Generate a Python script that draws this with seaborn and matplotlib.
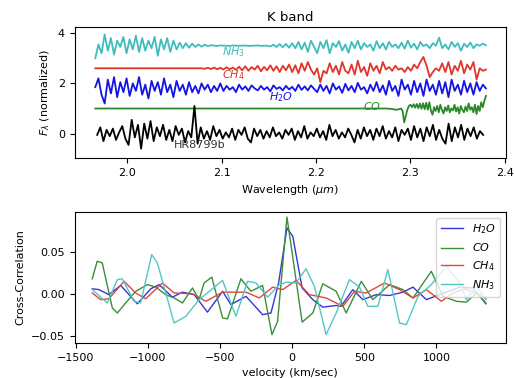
import numpy as np
import pandas as pd
import matplotlib
matplotlib.use("Agg")
import matplotlib.pyplot as plt
import seaborn as sns

# ---------------- top panel data (K band spectra) ----------------
grid_start, grid_stop, grid_n = 1.966, 2.38, 126
obj_start, obj_stop, obj_n = 1.968, 2.377, 124
co_start, co_stop, co_n = 2.27, 2.38, 67
co_flat_wave = 1.966
co_flat_flux = 1.00

hr8799b_flux = [
    -0.05, 0.25, -0.30, 0.15, -0.10, 0.20, -0.25, 0.05, 0.30, -0.20,
    -0.45, 0.55, -0.15, 0.35, -0.60, 0.40, -0.20, 0.50, -0.30, 0.25,
    -0.10, 0.35, -0.25, 0.15, -0.30, 0.30, -0.05, 0.20, -0.35, 0.10,
    -0.15, 1.10, -0.40, 0.25, -0.20, 0.10, -0.25, 0.30, -0.10, 0.15,
    -0.20, 0.05, -0.15, 0.20, -0.25, 0.15, -0.05, 0.25, -0.20, -0.35,
    0.20, -0.10, 0.15, -0.20, 0.10, -0.15, 0.25, -0.10, 0.05, -0.20,
    0.15, -0.05, 0.20, -0.25, 0.10, -0.15, 0.30, -0.20, 0.05, -0.10,
    0.20, -0.15, 0.10, -0.25, 0.35, -0.10, 0.15, -0.20, 0.05, -0.15,
    0.20, -0.05, -0.35, 0.15, -0.20, 0.25, -0.10, 0.15, -0.25, 0.20,
    -0.10, 0.30, -0.20, 0.10, -0.15, 0.25, -0.30, 0.15, -0.05, 0.20,
    -0.25, 0.30, -0.15, 0.20, -0.30, 0.25, -0.10, 0.35, -0.25, 0.15,
    -0.20, -0.40, 0.40, -0.30, 0.25, -0.15, 0.35, -0.25, 0.20, -0.10,
    0.25, -0.20, 0.10, -0.05,
]

nh3_flux = [
    3.00, 3.55, 3.20, 3.95, 3.30, 3.80, 3.15, 3.70, 3.45, 3.85,
    3.20, 3.75, 3.35, 3.90, 3.25, 3.80, 3.30, 3.70, 3.40, 3.85,
    3.10, 3.75, 3.35, 3.80, 3.25, 3.70,
    3.35, 3.62, 3.40, 3.60, 3.42, 3.58, 3.45, 3.55, 3.46, 3.54, 3.48, 3.52,
    3.50, 3.49, 3.51, 3.50, 3.50, 3.49, 3.51, 3.50, 3.50, 3.50, 3.51, 3.49,
    3.50, 3.50, 3.51, 3.49, 3.50, 3.50,
    3.47, 3.54, 3.45, 3.56, 3.44, 3.57, 3.42,
    3.60, 3.40, 3.65, 3.35, 3.62, 3.25, 3.70, 3.45, 3.20, 3.65,
    3.40, 3.72, 3.20, 3.60, 3.45, 3.68, 3.30, 3.55, 3.22, 3.65,
    3.40, 3.70, 3.35, 3.60, 3.45, 3.55, 3.30, 3.68, 3.40, 3.60,
    3.35, 3.65, 3.45, 3.55, 3.40, 3.62, 3.38, 3.70, 3.42, 3.58,
    3.35, 3.65, 3.48, 3.55, 3.40, 3.60, 3.50, 3.82, 3.40, 3.55,
    3.35, 3.65, 3.45, 3.60, 3.30, 3.58, 3.45, 3.62, 3.40, 3.55,
    3.50, 3.58, 3.52,
]

ch4_flux = [
    2.60, 2.60, 2.60, 2.60, 2.60, 2.60, 2.60, 2.60, 2.60, 2.60,
    2.60, 2.60, 2.60, 2.60, 2.60, 2.60, 2.60, 2.60, 2.60, 2.60,
    2.60, 2.60, 2.60, 2.60, 2.60, 2.60, 2.60, 2.60, 2.60, 2.60,
    2.60, 2.60, 2.60, 2.60,
    2.60, 2.58, 2.62, 2.57, 2.63, 2.56, 2.62, 2.55, 2.64, 2.56, 2.63, 2.54,
    2.66, 2.52, 2.68, 2.50, 2.65, 2.55, 2.70, 2.48, 2.66, 2.52, 2.72, 2.50,
    2.68, 2.45, 2.70, 2.52, 2.75,
    2.45, 2.72, 2.40, 2.80, 2.50, 2.85, 2.55, 2.35, 2.60, 2.05,
    2.50, 2.40, 2.80, 2.45, 2.70, 2.35, 2.85, 2.50, 2.40, 2.75,
    2.35, 2.90, 2.45, 2.65, 2.30, 2.80, 2.50, 2.70, 2.40, 2.85,
    2.55, 2.65, 2.50, 2.70, 2.55, 2.60, 2.45, 2.65, 2.50, 2.75,
    2.60, 2.85, 3.05, 2.70, 2.25, 2.45, 2.60, 2.50, 2.80, 2.45,
    2.85, 2.35, 2.70, 2.50, 2.90, 2.40, 2.75, 2.55, 2.85, 2.15,
    2.60, 2.50, 2.55,
]

h2o_flux = [
    1.85, 2.20, 1.55, 1.20, 2.15, 1.60, 2.25, 1.45, 2.05, 1.65,
    2.20, 1.50, 2.00, 1.70, 2.25, 1.55, 1.95, 1.40, 2.10, 1.70,
    2.05, 1.55, 2.20, 1.65, 1.95, 1.45,
    2.10, 1.70, 1.95, 1.55, 2.05, 1.65, 1.90, 1.60, 2.00, 1.75, 1.95, 1.65,
    1.90, 1.70, 2.00,
    1.70, 1.90, 1.75, 1.85, 1.65, 1.95, 1.75, 1.88, 1.70, 1.92,
    1.80, 1.72, 1.90, 1.75, 1.85, 1.68, 1.92, 1.78, 1.85, 1.72,
    1.90, 1.76, 1.86, 1.70, 1.95, 1.74, 1.88, 1.72, 1.92, 1.78,
    1.65, 1.95, 1.70, 1.90, 1.60, 2.00, 1.75, 1.88, 1.62, 1.98,
    1.72, 1.90, 1.65, 2.02, 1.75, 1.85, 1.60, 1.95, 1.70, 2.05,
    1.65, 1.92, 1.55, 2.10, 1.70, 1.90, 1.50, 2.15, 1.75, 1.95,
    1.55, 2.10, 1.65, 2.00, 1.50, 2.15, 1.70, 1.95, 1.55, 2.10,
    1.60, 2.05, 1.45, 2.15, 1.70, 1.95, 1.55, 2.10, 1.65, 2.00,
    1.55, 2.05, 1.70, 1.95, 1.80,
]

co_detail_flux = [
    1.00, 1.00, 1.00, 1.00, 0.99, 0.99, 0.98, 0.97, 0.96, 0.95,
    0.96, 0.98, 1.00, 0.90, 0.45, 0.70, 0.95, 1.10,
    1.15, 1.05, 1.17, 1.03, 1.18, 1.01, 1.20, 0.99, 1.21, 0.97, 1.23, 0.95,
    1.25, 0.92,
    0.75, 1.05, 0.90, 1.10, 0.85, 1.15, 0.95, 0.80, 1.05, 0.90,
    1.12, 0.85, 1.00, 0.92, 1.15, 0.88, 1.05, 0.80, 1.10, 0.95,
    0.85, 1.08, 0.90, 1.20, 0.95, 1.05, 0.85, 1.15, 0.78, 1.10,
    0.90, 1.25, 1.05, 1.30, 1.50,
]

# labels in the top panel
label_texts = ["$NH_3$", "$CH_4$", "$H_2O$", "$CO$", "HR8799b"]
label_x = [2.100, 2.100, 2.150, 2.250, 2.049]
label_y = [3.24, 2.32, 1.44, 1.08, -0.44]

# ---------------- bottom panel data (cross-correlation) ----------------
species = ["$H_2O$", "$CO$", "$CH_4$", "$NH_3$"]

vel_h2o = [-1384, -1338, -1269, -1187, -1072, -979, -921, -829, -759, -678,
           -586, -481, -424, -319, -204, -146, -93, -35, 5, 70,
           144, 213, 306, 340, 421, 491, 583, 676, 769, 838,
           931, 1023, 1162, 1255, 1343]
ccf_h2o = [0.006, 0.005, -0.001, 0.010, -0.012, 0.006, 0.011, -0.004, 0.002, -0.001,
           -0.022, 0.003, -0.013, -0.003, -0.025, -0.023, 0.013, 0.079, 0.069, 0.007,
           -0.007, -0.016, -0.014, -0.015, 0.005, -0.007, -0.001, -0.002, 0.002, 0.008,
           -0.007, -0.001, 0.008, 0.007, -0.012]

vel_co = [-1384, -1350, -1315, -1245, -1210, -1153, -1083, -1002, -944, -875,
          -817, -759, -690, -644, -609, -556, -481, -447, -354, -285,
          -204, -139, -100, -35, 70, 144, 213, 306, 375, 480,
          560, 676, 769, 838, 965, 1046, 1139, 1208, 1278, 1343]
ccf_co = [0.018, 0.039, 0.037, -0.017, -0.023, -0.011, 0.003, 0.011, 0.008, -0.001,
          -0.005, -0.011, 0.007, -0.007, 0.013, 0.020, -0.029, -0.030, 0.018, 0.003,
          0.010, -0.049, -0.033, 0.092, -0.034, -0.023, 0.012, 0.003, -0.023, 0.015,
          -0.007, 0.011, 0.005, -0.005, 0.027, -0.003, -0.009, -0.010, 0.001, -0.011]

vel_ch4 = [-1384, -1326, -1269, -1164, -1083, -1014, -898, -817, -690, -597,
           -481, -319, -227, -134, -65, 28, 120, 236, 352, 433,
           514, 641, 745, 838, 931, 1035, 1116, 1200, 1343]
ccf_ch4 = [0.001, -0.007, -0.006, 0.015, 0.001, -0.006, 0.013, 0.001, 0.000, -0.009,
           0.002, 0.002, -0.005, 0.008, 0.005, 0.016, -0.001, -0.005, -0.015, 0.003,
           0.001, 0.013, 0.005, -0.005, 0.005, -0.009, 0.001, 0.006, -0.005]

vel_nh3 = [-1384, -1280, -1210, -1176, -1095, -1049, -972, -933, -817, -736,
           -644, -481, -389, -308, -250, -169, -88, -35, 28, 97,
           155, 236, 306, 398, 468, 525, 595, 664, 745, 792,
           873, 965, 1069, 1162, 1208, 1278, 1343]
ccf_nh3 = [0.005, -0.011, 0.017, 0.018, -0.009, -0.011, 0.047, 0.037, -0.035, -0.027,
           -0.007, 0.016, -0.027, 0.015, 0.013, -0.004, 0.011, 0.014, 0.013, 0.030,
           0.009, -0.049, -0.023, 0.017, 0.008, -0.015, -0.015, 0.029, -0.035, -0.037,
           -0.003, 0.011, 0.033, 0.013, -0.007, 0.009, -0.007]

# ---------------- build tables ----------------
wave = np.linspace(grid_start, grid_stop, grid_n)
obj_wave = np.linspace(obj_start, obj_stop, obj_n)
co_wave = np.concatenate([[co_flat_wave], np.linspace(co_start, co_stop, co_n)])
co_flux = np.concatenate([[co_flat_flux], co_detail_flux])

c_cyan, c_red, c_blue, c_green = "#3fbcbc", "#e0352b", "#1414e6", "#2b892b"

top_series = [
    (pd.DataFrame({"w": wave, "f": nh3_flux}), c_cyan),
    (pd.DataFrame({"w": wave, "f": ch4_flux}), c_red),
    (pd.DataFrame({"w": wave, "f": h2o_flux}), c_blue),
    (pd.DataFrame({"w": co_wave, "f": co_flux}), c_green),
    (pd.DataFrame({"w": obj_wave, "f": hr8799b_flux}), "k"),
]
label_colors = [c_cyan, c_red, c_blue, c_green, "#333333"]

ccf = pd.concat([
    pd.DataFrame({"v": vel_h2o, "ccf": ccf_h2o, "species": species[0]}),
    pd.DataFrame({"v": vel_co, "ccf": ccf_co, "species": species[1]}),
    pd.DataFrame({"v": vel_ch4, "ccf": ccf_ch4, "species": species[2]}),
    pd.DataFrame({"v": vel_nh3, "ccf": ccf_nh3, "species": species[3]}),
], ignore_index=True)
palette = dict(zip(species, ["#3535d8", "#3a8f3a", "#e0463a", "#55c6c6"]))

# ---------------- draw ----------------
plt.rcParams["font.family"] = ["DejaVu Sans"]
plt.rcParams["font.size"] = 8
fig = plt.figure(figsize=(5.14, 3.78), dpi=100)
ax1 = fig.add_axes([0.145, 0.582, 0.839, 0.347])
ax2 = fig.add_axes([0.145, 0.093, 0.839, 0.346])

for df, col in top_series:
    sns.lineplot(data=df, x="w", y="f", color=col, lw=1.3, ax=ax1,
                 estimator=None, sort=False)
for t, x, y, col in zip(label_texts, label_x, label_y, label_colors):
    ax1.text(x, y, t, color=col, fontsize=8, ha="left", va="center")

ax1.set_xlim(1.944, 2.401)
ax1.set_ylim(-0.97, 4.25)
ax1.set_xticks([2.0, 2.1, 2.2, 2.3, 2.4])
ax1.set_yticks([0, 2, 4])
ax1.set_title("K band", fontsize=9.5, pad=4)
ax1.set_xlabel(r"Wavelength ($\mu m$)", fontsize=8)
ax1.set_ylabel(r"$F_\lambda$ (normalized)", fontsize=8)
ax1.tick_params(labelsize=8)

sns.lineplot(data=ccf, x="v", y="ccf", hue="species", palette=palette,
             hue_order=species, lw=1.0, ax=ax2, estimator=None)
ax2.set_xlim(-1507, 1481)
ax2.set_ylim(-0.0588, 0.098)
ax2.set_xticks([-1500, -1000, -500, 0, 500, 1000])
ax2.set_yticks([-0.05, 0.0, 0.05])
ax2.set_xlabel("velocity (km/sec)", fontsize=8)
ax2.set_ylabel("Cross-Correlation", fontsize=8)
ax2.tick_params(labelsize=8)
ax2.legend(loc="upper right", fontsize=8)

fig.savefig("out.png", dpi=100)
